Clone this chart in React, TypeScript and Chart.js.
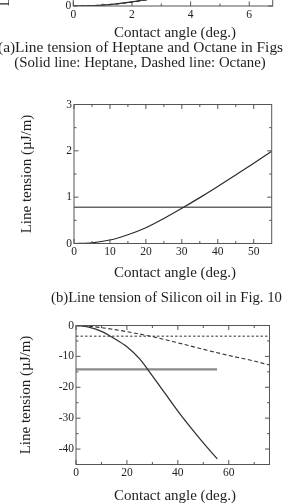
import React, { useEffect, useRef } from 'react';
import { Chart, registerables } from 'chart.js';

Chart.register(...registerables);

const FONT = '"Liberation Serif", "Times New Roman", serif';
const TICK_SIZE = 11.5;
const LINE_COLOR = '#2b2b2b';
const FRAME_COLOR = '#555';

// ---------- (a) Heptane / Octane ----------
const aAngles = [0, 1, 2, 3, 4, 5, 6, 6.8];
const aHeptane = [0, 0.02, 0.09, 0.2, 0.36, 0.56, 0.8, 1.03];
const aOctane = [0, 0.02, 0.085, 0.19, 0.34, 0.53, 0.76, 0.98];
const aXTicks = [0, 2, 4, 6];
const aXMinor = [1, 3, 5];
const aYTicks = [0, 1, 2, 3];
const aYMinor = [0.5, 1.5, 2.5];

// ---------- (b) Silicon oil ----------
const bAngles = [0, 5, 10, 15, 20, 25, 30, 35, 40, 45, 50, 55];
const bSiliconOil = [0, 0.015, 0.075, 0.19, 0.34, 0.54, 0.76, 0.99, 1.23, 1.48, 1.73, 1.99];
const bReference = 0.78;
const bXTicks = [0, 10, 20, 30, 40, 50];
const bXMinor = [5, 15, 25, 35, 45];
const bYTicks = [0, 1, 2, 3];
const bYMinor = [0.5, 1.5, 2.5];

// ---------- (c) ----------
const cSolidAngles = [0, 5, 10, 15, 20, 25, 30, 35, 40, 45, 50, 55.5];
const cSolid = [0, -0.5, -1.9, -4.2, -6.9, -10.8, -16.3, -22, -27.7, -33, -38, -43.2];
const cDashedAngles = [0, 5, 10, 15, 20, 30, 40, 50, 60, 70, 76];
const cDashed = [0, -0.2, -0.7, -1.3, -2.0, -3.6, -5.6, -7.7, -9.7, -11.5, -12.8];
const cSolidRef = -14.2;
const cSolidRefEnd = 55.4;
const cDashedRef = -3.5;
const cXTicks = [0, 20, 40, 60];
const cXMinor = [10, 30, 50, 70];
const cYTicks = [-40, -30, -20, -10, 0];
const cYMinor = [-35, -25, -15, -5];

type TickSpec = { xMajor: number[]; xMinor: number[]; yMajor: number[]; yMinor: number[] };

function makeFramePlugin(spec: TickSpec) {
  return {
    id: 'frameTicks',
    afterDatasetsDraw(chart: any) {
      const { ctx, chartArea } = chart;
      const { left, right, top, bottom } = chartArea;
      const xs = chart.scales.x;
      const ys = chart.scales.y;
      ctx.save();
      ctx.strokeStyle = FRAME_COLOR;
      ctx.lineWidth = 1;
      ctx.strokeRect(left, top, right - left, bottom - top);
      ctx.beginPath();
      const major = 4.5;
      const minor = 2.5;
      const xt = (v: number, len: number) => {
        const p = xs.getPixelForValue(v);
        ctx.moveTo(p, bottom);
        ctx.lineTo(p, bottom - len);
        ctx.moveTo(p, top);
        ctx.lineTo(p, top + len);
      };
      const yt = (v: number, len: number) => {
        const p = ys.getPixelForValue(v);
        ctx.moveTo(left, p);
        ctx.lineTo(left + len, p);
        ctx.moveTo(right, p);
        ctx.lineTo(right - len, p);
      };
      spec.xMajor.forEach((v) => xt(v, major));
      spec.xMinor.forEach((v) => xt(v, minor));
      spec.yMajor.forEach((v) => yt(v, major));
      spec.yMinor.forEach((v) => yt(v, minor));
      ctx.stroke();
      ctx.restore();
    },
  };
}

type PanelDef = {
  canvasTop: number;
  canvasHeight: number;
  plotLeft: number;
  plotRight: number;
  plotTop: number;
  plotBottom: number;
  xMin: number;
  xMax: number;
  yMin: number;
  yMax: number;
  ticks: TickSpec;
  datasets: any[];
};

function buildConfig(p: PanelDef): any {
  const xHeight = p.canvasHeight - (p.plotBottom - p.canvasTop);
  const tickFont = { family: FONT, size: TICK_SIZE };
  return {
    type: 'line',
    data: { datasets: p.datasets },
    plugins: [makeFramePlugin(p.ticks)],
    options: {
      responsive: false,
      animation: false,
      devicePixelRatio: 1,
      layout: {
        padding: { left: 0, right: 286 - p.plotRight, top: p.plotTop - p.canvasTop, bottom: 0 },
      },
      plugins: { legend: { display: false }, tooltip: { enabled: false } },
      elements: { point: { radius: 0 } },
      scales: {
        x: {
          type: 'linear',
          min: p.xMin,
          max: p.xMax,
          afterBuildTicks: (s: any) => {
            s.ticks = p.ticks.xMajor.map((v) => ({ value: v }));
          },
          afterFit: (s: any) => {
            s.height = xHeight;
          },
          grid: { display: false, drawTicks: false },
          border: { display: false },
          ticks: {
            font: tickFont,
            color: '#222',
            padding: 2,
            maxRotation: 0,
            autoSkip: false,
            callback: (v: any) => String(v),
          },
        },
        y: {
          type: 'linear',
          min: p.yMin,
          max: p.yMax,
          afterBuildTicks: (s: any) => {
            s.ticks = p.ticks.yMajor.map((v) => ({ value: v }));
          },
          afterFit: (s: any) => {
            s.width = p.plotLeft;
          },
          grid: { display: false, drawTicks: false },
          border: { display: false },
          ticks: {
            font: tickFont,
            color: '#222',
            padding: 2,
            autoSkip: false,
            callback: (v: any) => String(v),
          },
        },
      },
    },
  };
}

const pts = (xs: number[], ys: number[]) => xs.map((x, i) => ({ x, y: ys[i] }));

const panelA: PanelDef = {
  canvasTop: -160,
  canvasHeight: 200,
  plotLeft: 73.3,
  plotRight: 272.7,
  plotTop: -133,
  plotBottom: 6,
  xMin: 0,
  xMax: 6.8,
  yMin: 0,
  yMax: 3,
  ticks: { xMajor: aXTicks, xMinor: aXMinor, yMajor: aYTicks, yMinor: aYMinor },
  datasets: [
    {
      label: 'Heptane',
      data: pts(aAngles, aHeptane),
      borderColor: LINE_COLOR,
      borderWidth: 1.2,
      cubicInterpolationMode: 'monotone',
    },
    {
      label: 'Octane',
      data: pts(aAngles, aOctane),
      borderColor: LINE_COLOR,
      borderWidth: 1.2,
      borderDash: [4, 3],
      cubicInterpolationMode: 'monotone',
    },
  ],
};

const panelB: PanelDef = {
  canvasTop: 90,
  canvasHeight: 180,
  plotLeft: 74,
  plotRight: 271.7,
  plotTop: 104.5,
  plotBottom: 243.5,
  xMin: 0,
  xMax: 55,
  yMin: 0,
  yMax: 3,
  ticks: { xMajor: bXTicks, xMinor: bXMinor, yMajor: bYTicks, yMinor: bYMinor },
  datasets: [
    {
      label: 'Silicon oil',
      data: pts(bAngles, bSiliconOil),
      borderColor: LINE_COLOR,
      borderWidth: 1.2,
      cubicInterpolationMode: 'monotone',
    },
    {
      label: 'Reference',
      data: [
        { x: bAngles[0], y: bReference },
        { x: bAngles[bAngles.length - 1], y: bReference },
      ],
      borderColor: '#666',
      borderWidth: 1.5,
    },
  ],
};

const panelC: PanelDef = {
  canvasTop: 310,
  canvasHeight: 180,
  plotLeft: 76,
  plotRight: 269.5,
  plotTop: 325.5,
  plotBottom: 464.5,
  xMin: 0,
  xMax: 76,
  yMin: -45,
  yMax: 0,
  ticks: { xMajor: cXTicks, xMinor: cXMinor, yMajor: cYTicks, yMinor: cYMinor },
  datasets: [
    {
      label: 'Solid curve',
      data: pts(cSolidAngles, cSolid),
      borderColor: '#333',
      borderWidth: 1.3,
      cubicInterpolationMode: 'monotone',
    },
    {
      label: 'Dashed curve',
      data: pts(cDashedAngles, cDashed),
      borderColor: '#333',
      borderWidth: 1.1,
      borderDash: [4, 2.5],
      cubicInterpolationMode: 'monotone',
    },
    {
      label: 'Solid reference',
      data: [
        { x: 0, y: cSolidRef },
        { x: cSolidRefEnd, y: cSolidRef },
      ],
      borderColor: '#8a8a8a',
      borderWidth: 2.4,
    },
    {
      label: 'Dashed reference',
      data: [
        { x: 0, y: cDashedRef },
        { x: cDashedAngles[cDashedAngles.length - 1], y: cDashedRef },
      ],
      borderColor: '#777',
      borderWidth: 1.6,
      borderDash: [2.5, 2],
    },
  ],
};

function Panel({ def }: { def: PanelDef }) {
  const ref = useRef<HTMLCanvasElement>(null);
  useEffect(() => {
    if (!ref.current) return;
    const chart = new Chart(ref.current, buildConfig(def));
    return () => chart.destroy();
  }, [def]);
  return (
    <canvas
      ref={ref}
      width={286}
      height={def.canvasHeight}
      style={{ position: 'absolute', left: 0, top: def.canvasTop, width: 286, height: def.canvasHeight }}
    />
  );
}

function Text({
  x,
  y,
  text,
  rotate,
  anchorLeft,
  size = 15,
}: {
  x: number;
  y: number;
  text: string;
  rotate?: boolean;
  anchorLeft?: boolean;
  size?: number;
}) {
  const transform = anchorLeft
    ? 'translate(0,-50%)'
    : `translate(-50%,-50%)${rotate ? ' rotate(-90deg)' : ''}`;
  return (
    <div
      style={{
        position: 'absolute',
        left: x,
        top: y,
        transform,
        whiteSpace: 'nowrap',
        fontFamily: FONT,
        fontSize: size,
        lineHeight: 1,
        color: '#1e1e1e',
      }}
    >
      {text}
    </div>
  );
}

export default function App() {
  return (
    <div
      style={{
        position: 'absolute',
        left: 0,
        top: 0,
        width: 286,
        height: 503,
        overflow: 'hidden',
        background: '#fff',
      }}
    >
      <Panel def={panelA} />
      <Panel def={panelB} />
      <Panel def={panelC} />

      <Text x={4} y={-53} text="Line tension (µJ/m)" rotate />
      <Text x={175} y={32} text="Contact angle (deg.)" />
      <Text x={-2} y={47} text="(a)Line tension of Heptane and Octane in Figs" anchorLeft size={15.4} />
      <Text x={140} y={61.5} text="(Solid line: Heptane, Dashed line: Octane)" size={14.8} />

      <Text x={26} y={174} text="Line tension (µJ/m)" rotate />
      <Text x={175} y={272} text="Contact angle (deg.)" />
      <Text x={51} y={297} text="(b)Line tension of Silicon oil in Fig. 10" anchorLeft size={14.7} />

      <Text x={25} y={395} text="Line tension (µJ/m)" rotate />
      <Text x={175} y={495} text="Contact angle (deg.)" />
    </div>
  );
}
